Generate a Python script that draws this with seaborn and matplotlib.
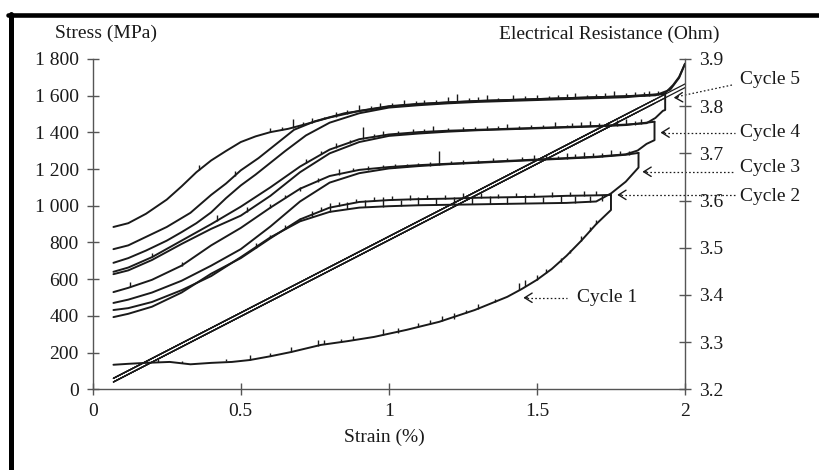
import numpy as np
import matplotlib
matplotlib.use("Agg")
import matplotlib.pyplot as plt
from matplotlib.lines import Line2D
import seaborn as sns

sns.set_theme(style="white")
plt.rcParams['font.family'] = ['Liberation Serif', 'DejaVu Serif']

# ---------------- data ----------------
# axis ticks
strain_ticks = [0, 0.5, 1, 1.5, 2]
strain_tick_labels = ["0", "0.5", "1", "1.5", "2"]
stress_ticks = [0, 200, 400, 600, 800, 1000, 1200, 1400, 1600, 1800]
stress_tick_labels = ["0", "200", "400", "600", "800", "1 000", "1 200", "1 400", "1 600", "1 800"]
res_ticks = [3.2, 3.3, 3.4, 3.5, 3.6, 3.7, 3.8, 3.9]
res_tick_labels = ["3.2", "3.3", "3.4", "3.5", "3.6", "3.7", "3.8", "3.9"]

# stress-strain lines (MPa), one loading and one unloading line per cycle
cycle_names = ["Cycle 1", "Cycle 2", "Cycle 3", "Cycle 4", "Cycle 5"]
line_start_strain = [0.07, 0.07, 0.07, 0.07, 0.07]
cycle_max_strain = [1.75, 1.843, 1.897, 1.933, 2.0]
load_start_stress = [60, 60, 60, 60, 60]
load_max_stress = [1456, 1533, 1578, 1608, 1664]
unload_end_stress = [40, 40, 40, 40, 40]
unload_max_stress = [1436, 1513, 1558, 1588, 1644]

# electrical resistance curves (Ohm)
strain_L1 = [0.07, 0.12, 0.18, 0.26, 0.33, 0.4, 0.47, 0.53, 0.6, 0.67, 0.77, 0.86, 0.95, 1.06,
             1.17, 1.29, 1.4, 1.45, 1.5, 1.55, 1.6, 1.65, 1.7, 1.75, 1.75]
res_L1 = [3.252, 3.254, 3.256, 3.258, 3.253, 3.256, 3.258, 3.262, 3.27, 3.279, 3.294, 3.302, 3.311, 3.326,
          3.343, 3.368, 3.396, 3.413, 3.432, 3.455, 3.483, 3.515, 3.55, 3.58, 3.612]

strain_U1 = [0.07, 0.12, 0.2, 0.3, 0.4, 0.5, 0.6, 0.7, 0.8, 0.9, 1.0, 1.1, 1.2, 1.3, 1.4, 1.5, 1.6, 1.7, 1.75]
res_U1 = [3.353, 3.36, 3.375, 3.405, 3.445, 3.478, 3.52, 3.56, 3.585, 3.597, 3.601, 3.603, 3.604, 3.606,
          3.607, 3.608, 3.61, 3.611, 3.612]

strain_L2 = [0.07, 0.12, 0.2, 0.3, 0.4, 0.5, 0.6, 0.7, 0.8, 0.9, 1.0, 1.1, 1.2, 1.3, 1.4, 1.5, 1.6, 1.7,
             1.75, 1.8, 1.843, 1.843]
res_L2 = [3.368, 3.372, 3.385, 3.41, 3.44, 3.48, 3.522, 3.556, 3.576, 3.585, 3.588, 3.59, 3.591, 3.592,
          3.593, 3.594, 3.595, 3.598, 3.615, 3.64, 3.67, 3.701]

strain_U2 = [0.07, 0.12, 0.2, 0.3, 0.4, 0.5, 0.6, 0.7, 0.8, 0.9, 1.0, 1.1, 1.2, 1.3, 1.4, 1.5, 1.6, 1.7,
             1.8, 1.843]
res_U2 = [3.383, 3.39, 3.405, 3.43, 3.462, 3.497, 3.545, 3.598, 3.638, 3.658, 3.668, 3.673, 3.677, 3.68,
          3.683, 3.686, 3.689, 3.692, 3.697, 3.701]

strain_L3 = [0.07, 0.12, 0.2, 0.3, 0.4, 0.5, 0.6, 0.7, 0.8, 0.9, 1.0, 1.1, 1.2, 1.3, 1.4, 1.5, 1.6, 1.7,
             1.8, 1.84, 1.87, 1.897, 1.897]
res_L3 = [3.406, 3.415, 3.432, 3.462, 3.505, 3.542, 3.585, 3.625, 3.652, 3.665, 3.671, 3.675, 3.678, 3.681,
          3.684, 3.687, 3.69, 3.693, 3.698, 3.706, 3.72, 3.728, 3.767]

strain_U3 = [0.07, 0.12, 0.2, 0.3, 0.4, 0.5, 0.6, 0.7, 0.8, 0.9, 1.0, 1.1, 1.2, 1.3, 1.4, 1.5, 1.6, 1.7,
             1.8, 1.897]
res_U3 = [3.444, 3.452, 3.474, 3.508, 3.54, 3.568, 3.61, 3.66, 3.7, 3.724, 3.737, 3.742, 3.746, 3.749,
          3.751, 3.753, 3.755, 3.757, 3.76, 3.767]

strain_L4 = [0.07, 0.12, 0.2, 0.3, 0.4, 0.5, 0.6, 0.7, 0.8, 0.9, 1.0, 1.1, 1.2, 1.3, 1.4, 1.5, 1.6, 1.7,
             1.8, 1.87, 1.9, 1.925, 1.933, 1.933]
res_L4 = [3.449, 3.458, 3.48, 3.515, 3.55, 3.587, 3.628, 3.672, 3.708, 3.73, 3.74, 3.745, 3.748, 3.75,
          3.752, 3.754, 3.756, 3.758, 3.761, 3.764, 3.775, 3.79, 3.792, 3.826]

strain_U4 = [0.07, 0.12, 0.18, 0.25, 0.3, 0.35, 0.4, 0.45, 0.5, 0.55, 0.6, 0.65, 0.72, 0.8, 0.9, 1.0, 1.1,
             1.2, 1.3, 1.4, 1.5, 1.6, 1.7, 1.8, 1.933]
res_U4 = [3.468, 3.478, 3.494, 3.515, 3.533, 3.552, 3.575, 3.605, 3.632, 3.655, 3.68, 3.705, 3.738, 3.765,
          3.785, 3.797, 3.802, 3.806, 3.809, 3.811, 3.813, 3.815, 3.817, 3.819, 3.826]

strain_L5 = [0.07, 0.12, 0.18, 0.25, 0.33, 0.4, 0.45, 0.5, 0.56, 0.62, 0.68, 0.75, 0.85, 1.0, 1.1, 1.2,
             1.3, 1.4, 1.5, 1.6, 1.7, 1.8, 1.93, 1.96, 1.98, 2.0]
res_L5 = [3.497, 3.505, 3.523, 3.544, 3.574, 3.612, 3.636, 3.664, 3.69, 3.72, 3.75, 3.768, 3.785, 3.799,
          3.804, 3.808, 3.811, 3.813, 3.815, 3.817, 3.819, 3.821, 3.826, 3.845, 3.862, 3.89]

strain_U5 = [0.07, 0.12, 0.18, 0.25, 0.3, 0.35, 0.4, 0.45, 0.5, 0.55, 0.6, 0.66, 0.72, 0.8, 0.9, 1.0, 1.1,
             1.2, 1.3, 1.4, 1.5, 1.6, 1.7, 1.8, 1.9, 1.95, 1.98, 2.0]
res_U5 = [3.544, 3.552, 3.572, 3.602, 3.63, 3.66, 3.685, 3.705, 3.724, 3.736, 3.745, 3.752, 3.762, 3.776,
          3.79, 3.80, 3.805, 3.808, 3.811, 3.813, 3.815, 3.817, 3.819, 3.821, 3.823, 3.835, 3.86, 3.89]

# noise spikes: strain, base (Ohm), spike height (Ohm)
spike_x_c1 = [0.22, 0.3, 0.45, 0.53, 0.6, 0.67, 0.76, 0.78, 0.84, 0.88, 0.98, 1.03, 1.1, 1.14, 1.18,
              1.22, 1.26, 1.3, 1.36, 1.44, 1.46, 1.5, 1.53, 1.58, 1.61, 1.65, 1.68, 1.7]
spike_lo_c1 = [3.257, 3.255, 3.26, 3.262, 3.27, 3.279, 3.292, 3.295, 3.30, 3.304, 3.315, 3.32, 3.331,
               3.338, 3.344, 3.35, 3.361, 3.37, 3.385, 3.41, 3.418, 3.432, 3.446, 3.47, 3.488, 3.515,
               3.536, 3.55]
spike_h_c1 = [0.008, 0.005, 0.005, 0.01, 0.006, 0.011, 0.013, 0.009, 0.007, 0.008, 0.012, 0.01, 0.009,
              0.008, 0.012, 0.012, 0.007, 0.01, 0.007, 0.015, 0.014, 0.01, 0.009, 0.008, 0.007, 0.01,
              0.009, 0.008]

spike_x_p4 = [0.6, 0.64, 0.677, 0.71, 0.74, 0.78, 0.82, 0.86, 0.9, 0.94, 0.97, 1.01, 1.05, 1.09, 1.12,
              1.16, 1.2, 1.23, 1.27, 1.3, 1.33, 1.37, 1.42, 1.46, 1.5, 1.54, 1.57, 1.6, 1.63, 1.67, 1.7,
              1.73, 1.76, 1.8, 1.83, 1.86, 1.88, 1.91]
spike_lo_p4 = [3.745, 3.75, 3.753, 3.76, 3.765, 3.772, 3.778, 3.784, 3.79, 3.794, 3.797, 3.8, 3.803,
               3.805, 3.806, 3.807, 3.808, 3.809, 3.81, 3.811, 3.811, 3.812, 3.813, 3.814, 3.815, 3.815,
               3.816, 3.817, 3.817, 3.818, 3.819, 3.819, 3.82, 3.821, 3.821, 3.822, 3.822, 3.823]
spike_h_p4 = [0.008, 0.006, 0.02, 0.007, 0.009, 0.006, 0.01, 0.007, 0.012, 0.006, 0.01, 0.007, 0.011,
              0.006, 0.008, 0.007, 0.011, 0.017, 0.008, 0.009, 0.012, 0.006, 0.01, 0.007, 0.009, 0.006,
              0.008, 0.009, 0.01, 0.006, 0.007, 0.009, 0.012, 0.007, 0.008, 0.009, 0.011, 0.01]

spike_x_p3 = [0.72, 0.77, 0.82, 0.87, 0.914, 0.95, 0.98, 1.03, 1.08, 1.12, 1.15, 1.2, 1.25, 1.29, 1.33,
              1.37, 1.4, 1.44, 1.48, 1.52, 1.56, 1.6, 1.62, 1.65, 1.68, 1.71, 1.74, 1.77, 1.8, 1.83, 1.85]
spike_lo_p3 = [3.68, 3.698, 3.712, 3.722, 3.73, 3.735, 3.738, 3.741, 3.744, 3.745, 3.746, 3.747, 3.748,
               3.749, 3.75, 3.751, 3.752, 3.752, 3.753, 3.754, 3.755, 3.755, 3.756, 3.756, 3.757, 3.758,
               3.758, 3.759, 3.76, 3.761, 3.762]
spike_h_p3 = [0.008, 0.006, 0.009, 0.007, 0.025, 0.006, 0.009, 0.007, 0.008, 0.006, 0.011, 0.007, 0.008,
              0.006, 0.009, 0.007, 0.011, 0.006, 0.008, 0.007, 0.012, 0.006, 0.008, 0.01, 0.011, 0.007,
              0.009, 0.012, 0.013, 0.008, 0.01]

spike_x_p2 = [0.6, 0.65, 0.7, 0.76, 0.83, 0.88, 0.93, 0.98, 1.02, 1.06, 1.1, 1.14, 1.17, 1.21, 1.25, 1.3,
              1.35, 1.4, 1.45, 1.49, 1.53, 1.57, 1.6, 1.63, 1.66, 1.69, 1.72, 1.75, 1.78, 1.81]
spike_lo_p2 = [3.585, 3.605, 3.62, 3.64, 3.655, 3.662, 3.665, 3.668, 3.669, 3.671, 3.673, 3.674, 3.675,
               3.677, 3.678, 3.68, 3.681, 3.683, 3.685, 3.686, 3.687, 3.688, 3.689, 3.69, 3.691, 3.692,
               3.693, 3.694, 3.696, 3.697]
spike_h_p2 = [0.008, 0.006, 0.009, 0.007, 0.012, 0.006, 0.008, 0.007, 0.009, 0.006, 0.007, 0.008, 0.03,
              0.007, 0.008, 0.006, 0.009, 0.007, 0.008, 0.01, 0.009, 0.007, 0.011, 0.008, 0.012, 0.009,
              0.008, 0.013, 0.01, 0.009]

spike_x_p1 = [0.55, 0.6, 0.65, 0.7, 0.74, 0.77, 0.8, 0.83, 0.86, 0.89, 0.92, 0.95, 0.98, 1.01, 1.04,
              1.07, 1.1, 1.13, 1.16, 1.19, 1.22, 1.25, 1.28, 1.31, 1.34, 1.37, 1.4, 1.43, 1.46, 1.49,
              1.52, 1.55, 1.58, 1.61, 1.63, 1.66, 1.68, 1.7, 1.72]
spike_lo_p1 = [3.5, 3.52, 3.54, 3.556, 3.566, 3.578, 3.576, 3.588, 3.582, 3.596, 3.586, 3.599, 3.587,
               3.601, 3.588, 3.602, 3.59, 3.603, 3.59, 3.604, 3.591, 3.605, 3.592, 3.606, 3.592, 3.606,
               3.593, 3.607, 3.594, 3.607, 3.594, 3.608, 3.595, 3.609, 3.595, 3.61, 3.597, 3.611, 3.599]
spike_h_p1 = [0.01, 0.008, 0.009, 0.007, 0.012, 0.008, 0.018, 0.009, 0.014, 0.008, 0.016, 0.009, 0.02,
              0.008, 0.014, 0.01, 0.018, 0.009, 0.015, 0.008, 0.017, 0.01, 0.014, 0.009, 0.018, 0.008,
              0.015, 0.01, 0.017, 0.009, 0.014, 0.01, 0.016, 0.009, 0.015, 0.01, 0.013, 0.009, 0.012]

spike_x_rise = [0.126, 0.2, 0.3, 0.36, 0.42, 0.48, 0.52]
spike_lo_rise = [3.416, 3.48, 3.462, 3.665, 3.557, 3.653, 3.576]
spike_h_rise = [0.012, 0.009, 0.008, 0.01, 0.012, 0.009, 0.01]

# annotation targets (strain, Ohm)
label_tip_strain = [1.454, 1.771, 1.856, 1.917, 1.962]
label_tip_res = [3.394, 3.612, 3.661, 3.744, 3.818]

# ---------------- figure ----------------
fig = plt.figure(figsize=(8.19, 4.70), dpi=100)
ax = fig.add_axes([0.1132, 0.1717, 0.7232, 0.7028])
ax2 = ax.twinx()

ink = "#1a1a1a"
axis_col = "#555555"

# stress lines
for i in range(len(cycle_names)):
    sns.lineplot(x=[line_start_strain[i], cycle_max_strain[i]],
                 y=[load_start_stress[i], load_max_stress[i]],
                 ax=ax, color=ink, lw=0.9, estimator=None, sort=False)
    sns.lineplot(x=[line_start_strain[i], cycle_max_strain[i]],
                 y=[unload_end_stress[i], unload_max_stress[i]],
                 ax=ax, color=ink, lw=0.9, estimator=None, sort=False)

curves = [(strain_L1, res_L1), (strain_U1, res_U1), (strain_L2, res_L2), (strain_U2, res_U2),
          (strain_L3, res_L3), (strain_U3, res_U3), (strain_L4, res_L4), (strain_U4, res_U4),
          (strain_L5, res_L5), (strain_U5, res_U5)]
for sx, ry in curves:
    sns.lineplot(x=sx, y=ry, ax=ax2, color=ink, lw=1.4, estimator=None, sort=False)

for sx, lo, h in [(spike_x_c1, spike_lo_c1, spike_h_c1), (spike_x_p4, spike_lo_p4, spike_h_p4),
                  (spike_x_p3, spike_lo_p3, spike_h_p3), (spike_x_p2, spike_lo_p2, spike_h_p2),
                  (spike_x_p1, spike_lo_p1, spike_h_p1), (spike_x_rise, spike_lo_rise, spike_h_rise)]:
    lo = np.asarray(lo)
    ax2.vlines(sx, lo, lo + np.asarray(h), color=ink, lw=1.0)

# axes styling
ax.set_xlim(0, 2)
ax.set_ylim(0, 1800)
ax2.set_ylim(3.2, 3.9)
for a in (ax, ax2):
    a.set_xlabel("")
    a.set_ylabel("")
    a.grid(False)
    a.set_facecolor("none")
    for s in a.spines.values():
        s.set_visible(False)

ax.spines['left'].set_visible(True)
ax.spines['bottom'].set_visible(True)
ax2.spines['right'].set_visible(True)
for s in (ax.spines['left'], ax.spines['bottom'], ax2.spines['right']):
    s.set_color(axis_col)
    s.set_linewidth(1.0)

ax.set_xticks(strain_ticks)
ax.set_xticklabels(strain_tick_labels)
ax.set_yticks(stress_ticks)
ax.set_yticklabels(stress_tick_labels)
ax2.set_yticks(res_ticks)
ax2.set_yticklabels(res_tick_labels)

ax.tick_params(axis='x', direction='inout', length=8, width=1.0, color=axis_col,
               labelsize=14, pad=6, labelcolor=ink, bottom=True)
ax.tick_params(axis='y', direction='inout', length=8, width=1.0, color=axis_col,
               labelsize=14, pad=6, labelcolor=ink, left=True, right=False)
ax2.tick_params(axis='y', direction='inout', length=8, width=1.0, color=axis_col,
                labelsize=14, pad=6, labelcolor=ink, right=True, left=False)

# axis titles
fig.text(0.067, 0.93, "Stress (MPa)", fontsize=14, color=ink, ha='left', va='center')
fig.text(0.879, 0.926, "Electrical Resistance (Ohm)", fontsize=14, color=ink, ha='right', va='center')
fig.text(0.469, 0.07, "Strain (%)", fontsize=14, color=ink, ha='center', va='center')

# cycle labels with dotted leaders
text_pos = [(1.636, 3.394), (2.187, 3.608), (2.187, 3.6695), (2.187, 3.7437), (2.187, 3.856)]
tail_pos = [(1.60, 3.394), (2.17, 3.612), (2.17, 3.661), (2.17, 3.744), (2.16, 3.845)]
for i, name in enumerate(cycle_names):
    tx, ty = label_tip_strain[i], label_tip_res[i]
    px, py = tail_pos[i]
    dy = (py - ty) * 0.08
    ax2.plot([tx + 0.012, px], [ty + dy, py], color=ink, lw=0.9, ls=(0, (1.3, 1.8)), clip_on=False)
    ax2.annotate("", xy=(tx, ty), xytext=(tx + 0.014, ty + dy * 0.2),
                 arrowprops=dict(arrowstyle="->,head_length=0.45,head_width=0.28",
                                 lw=1.0, color=ink, shrinkA=0, shrinkB=0),
                 annotation_clip=False)
    ax2.text(text_pos[i][0], text_pos[i][1], name, fontsize=14, color=ink,
             ha='left', va='center', clip_on=False)

# scanned frame (top and left border)
fig.add_artist(Line2D([0.010, 1.0], [0.969, 0.969], transform=fig.transFigure, color='black', lw=3.3))
fig.add_artist(Line2D([0.0134, 0.0134], [0.0, 0.971], transform=fig.transFigure, color='black', lw=3.6))

fig.savefig("out.png", dpi=100)
